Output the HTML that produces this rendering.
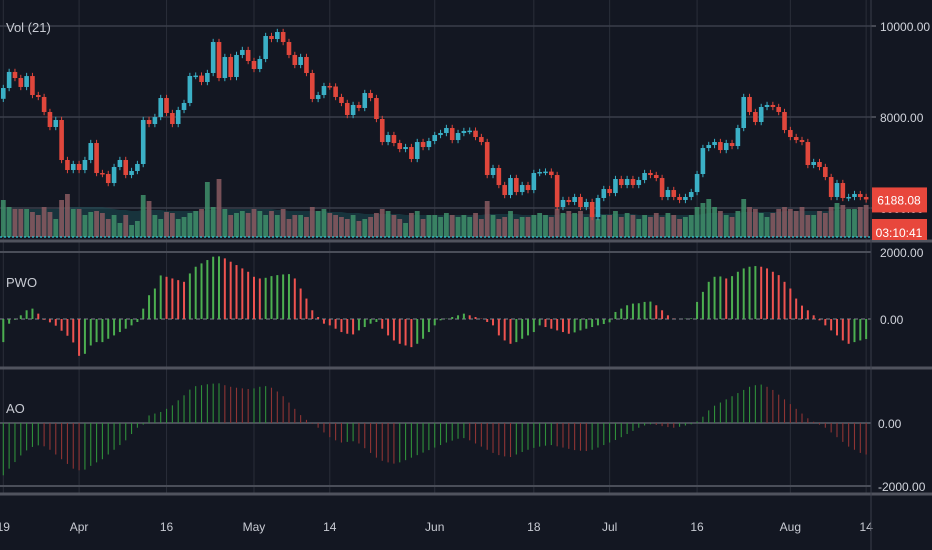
<!DOCTYPE html>
<html><head><meta charset="utf-8"><style>
html,body{margin:0;padding:0;background:#131722;}
svg{display:block;font-family:"Liberation Sans",sans-serif;}
</style></head><body>
<svg id="c" width="932" height="550" viewBox="0 0 932 550">
<rect x="0" y="0" width="932" height="550" fill="#131722"/>
<g id="grid"></g>
<g id="vol"></g>
<g id="candles"></g>
<g id="pwo"></g>
<g id="ao"></g>
<g id="axes"></g>
<text x="6" y="32" fill="#c8cbd3" font-size="13">Vol (21)</text>
<text x="6" y="287" fill="#c8cbd3" font-size="13">PWO</text>
<text x="6" y="413" fill="#c8cbd3" font-size="13">AO</text>
</svg>
<script>
const closes=[8637,8990,8857,8660,8900,8483,8440,8110,7780,7934,7055,6835,6967,6835,7055,7428,6769,6747,6549,6901,7055,6725,6813,6967,7934,7846,8000,8417,8088,7846,8154,8308,8901,8910,8769,8967,9648,8857,9319,8879,9363,9473,9231,9055,9275,9780,9714,9868,9648,9363,9143,9319,8967,8396,8483,8681,8670,8440,8308,8044,8264,8198,8527,8417,7956,7450,7604,7428,7296,7340,7077,7450,7340,7472,7604,7648,7758,7494,7648,7692,7700,7560,7450,6725,6879,6505,6285,6659,6351,6505,6395,6769,6791,6800,6725,6022,6176,6132,6242,6022,6132,5802,6220,6417,6329,6637,6505,6637,6505,6615,6769,6725,6659,6242,6395,6242,6176,6242,6351,6747,7318,7384,7450,7274,7428,7362,7758,8440,8110,7890,8220,8264,8220,8110,7714,7560,7494,7450,6945,7011,6901,6681,6242,6549,6220,6242,6307,6242,6188.08];
const volumes=[37,30,28,28,28,25,22,30,25,18,37,43,28,28,22,25,26,24,18,22,14,22,12,16,42,36,22,18,25,24,18,20,24,26,28,55,30,58,28,22,24,26,24,28,26,22,26,22,28,18,22,22,20,30,26,28,24,22,20,18,22,16,18,20,24,28,26,22,18,14,24,26,18,22,22,20,24,22,20,22,20,24,18,36,22,18,20,26,18,20,20,22,24,22,20,28,24,26,24,26,20,22,18,22,22,26,20,24,22,18,22,20,24,20,24,22,18,20,22,30,34,38,30,26,22,20,26,38,30,28,24,20,24,28,30,28,26,30,22,22,26,24,30,34,32,28,28,30,32];
const volMA=[28,28,28,28,28,28,28,28,28,28,29,30,30,30,30,30,30,30,29,28,27,27,26,26,27,27,27,27,26,26,26,26,26,26,26,27,27,28,28,28,28,28,28,28,28,28,28,27,27,26,26,26,26,26,26,26,25,25,25,24,24,24,23,23,23,23,23,23,23,22,22,22,22,22,22,22,22,22,22,22,22,22,22,23,23,23,23,23,23,22,22,22,22,22,22,22,23,23,23,23,23,23,23,23,23,23,23,23,23,22,22,22,22,22,22,22,22,22,22,22,23,24,24,24,24,24,24,25,25,25,25,25,25,25,26,26,26,26,26,26,26,26,26,27,27,27,27,27,28];
const pwo=[-690,-140,-20,110,260,310,160,-20,-100,-200,-350,-500,-700,-1100,-1040,-790,-690,-690,-590,-490,-390,-290,-190,-90,310,710,910,1300,1260,1210,1160,1110,1360,1560,1660,1760,1860,1870,1810,1710,1610,1510,1410,1260,1210,1230,1280,1310,1330,1340,1210,910,610,260,60,-140,-190,-290,-390,-440,-460,-340,-240,-140,-90,-290,-490,-640,-740,-790,-840,-740,-590,-390,-190,-40,10,60,110,160,110,60,10,-90,-190,-490,-640,-740,-690,-590,-490,-390,-190,-240,-290,-340,-390,-440,-400,-340,-290,-240,-190,-150,-100,210,310,410,460,470,510,520,410,260,110,10,0,10,20,510,810,1110,1260,1270,1210,1280,1410,1510,1560,1580,1560,1510,1410,1310,1110,910,610,400,260,110,-40,-190,-340,-490,-640,-740,-690,-640,-600];
const ao=[-1660,-1450,-1240,-1030,-870,-760,-710,-740,-850,-1000,-1150,-1300,-1450,-1500,-1480,-1360,-1250,-1150,-1000,-850,-700,-550,-350,-150,-50,240,300,350,450,560,720,880,1060,1170,1200,1230,1250,1260,1200,1150,1120,1100,1080,1100,1150,1170,1120,1000,850,650,450,250,100,-20,-150,-300,-450,-550,-620,-600,-580,-650,-800,-950,-1100,-1200,-1250,-1290,-1250,-1180,-1100,-1020,-940,-860,-780,-700,-620,-560,-500,-480,-550,-650,-750,-850,-950,-1020,-1060,-1080,-1000,-920,-850,-790,-750,-720,-700,-740,-780,-820,-860,-880,-890,-850,-780,-700,-620,-540,-450,-350,-250,-150,-80,-40,-60,-100,-130,-150,-120,-80,-40,50,200,400,550,650,750,850,950,1050,1150,1200,1220,1150,1050,900,750,600,450,300,150,40,-50,-150,-300,-450,-600,-750,-850,-950,-1000];
const priceTicks=[10000,8000,6000];
const pwoTicks=[2000,0];
const aoTicks=[0,-2000];
const dateLabels=["19","Apr","16","May","14","Jun","18","Jul","16","Aug","14"];
const dateIdx=[0,13,28,43,56,74,91,104,119,135,148];

const NS="http://www.w3.org/2000/svg";
function mk(tag,attrs,parent){const e=document.createElementNS(NS,tag);for(const k in attrs)e.setAttribute(k,attrs[k]);parent.appendChild(e);return e;}
const xOf=i=>3.3+i*5.83;
const yPrice=p=>26+(10000-p)/2000*91;
const yVol=v=>237-v;
const yPwo=v=>319-v/2000*67;
const yAo=v=>423-v/2000*63;
const PLOT_R=871;
const grid=document.getElementById('grid'),axes=document.getElementById('axes');

dateIdx.forEach((d,i)=>{const x=xOf(d);
 const l=mk('line',{x1:x,y1:0,x2:x,y2:494,stroke:'#2a2e39','stroke-width':1},grid);
 
 
 const t=mk('text',{x:x,y:531,fill:'#c8cbd3','font-size':12,'text-anchor':'middle'},axes);
 t.textContent=dateLabels[i];
 
 
});
priceTicks.forEach(p=>{const y=yPrice(p);
 const l=mk('line',{x1:0,y1:y,x2:PLOT_R,y2:y,stroke:'#3a3e4a','stroke-width':1.5},grid);
 
 
 mk('line',{x1:PLOT_R,y1:y,x2:PLOT_R+5,y2:y,stroke:'#787b86'},axes);
 const t=mk('text',{x:880,y:y+5,fill:'#d1d4dc','font-size':12},axes);
 t.textContent=p.toFixed(2);
 
 
});
pwoTicks.forEach(v=>{const y=yPwo(v);
 const l=mk('line',{x1:0,y1:y,x2:PLOT_R,y2:y,stroke:v===0?'#5d606b':'#4a4e59','stroke-width':v===0?1.5:2,'stroke-dasharray':v===0?'4,3':''},grid);
 
 
 const t=mk('text',{x:880,y:y+5,fill:'#d1d4dc','font-size':12},axes);
 t.textContent=v.toFixed(2);
 
 
});
aoTicks.forEach(v=>{const y=yAo(v);
 const l=mk('line',{x1:0,y1:y,x2:PLOT_R,y2:y,stroke:'#4a4e59','stroke-width':2},grid);
 
 
 const t=mk('text',{x:878,y:y+5,fill:'#d1d4dc','font-size':12},axes);
 t.textContent=v.toFixed(2);
 
 
});
[[241,3],[368,3],[494,3]].forEach(s=>{const l=mk('line',{x1:0,y1:s[0],x2:932,y2:s[0],stroke:'#50535e','stroke-width':s[1]},axes);
 
 });
const ax=mk('line',{x1:PLOT_R,y1:0,x2:PLOT_R,y2:550,stroke:'#3a3e4a','stroke-width':1},axes);



const vol=document.getElementById('vol');
let pts=volMA.map((v,i)=>xOf(i)+','+yVol(v)).join(' ');
const area=mk('polygon',{points:xOf(0)+',237 '+pts+' '+xOf(volMA.length-1)+',237',fill:'#1c4a52','fill-opacity':0.55},vol);


volumes.forEach((v,i)=>{const up=i===0||closes[i]>=closes[i-1];
 const r=mk('rect',{x:xOf(i)-2.4,y:yVol(v),width:4.8,height:v,fill:up?'#3f8f6a':'#8a5a60','fill-opacity':0.85},vol);
 
 });
const dl=mk('line',{x1:0,y1:237,x2:PLOT_R,y2:237,stroke:'#30c8d8','stroke-width':1.2,'stroke-dasharray':'2,2'},vol);



const cg=document.getElementById('candles');
closes.forEach((c,i)=>{const o=i===0?8400:closes[i-1];const up=c>=o;const col=up?'#3bb0c6':'#e0473c';
 const x=xOf(i);const hi=Math.max(o,c)+70,lo=Math.min(o,c)-70;
 const w=mk('line',{x1:x,y1:yPrice(hi),x2:x,y2:yPrice(lo),stroke:col,'stroke-width':1},cg);
 
 
 const y1=yPrice(Math.max(o,c)),y2=yPrice(Math.min(o,c));
 const b=mk('rect',{x:x-2.3,y:y1,width:4.6,height:Math.max(1.5,y2-y1),fill:col},cg);
 
 });

const pg=document.getElementById('pwo');
pwo.forEach((v,i)=>{const up=i===0||v>=pwo[i-1];const x=xOf(i);
 const r=mk('line',{x1:x,y1:yPwo(0),x2:x,y2:yPwo(v),stroke:up?'#4caf50':'#ef5350','stroke-width':2},pg);
 
 });
const ag=document.getElementById('ao');
ao.forEach((v,i)=>{const up=i===0||v>=ao[i-1];const x=xOf(i);
 const r=mk('line',{x1:x,y1:yAo(0),x2:x,y2:yAo(v),stroke:up?'#2f8f3a':'#8e3434','stroke-width':1.1},ag);
 
 });

const last=closes[closes.length-1];
const pl=mk('rect',{x:872,y:yPrice(last)-12,width:55,height:25,fill:'#e8473c'},axes);


const pt=mk('text',{x:899,y:yPrice(last)+5,fill:'#fff','font-size':12,'text-anchor':'middle'},axes);
pt.textContent=last.toFixed(2);


const cl=mk('rect',{x:872,y:219,width:55,height:21,fill:'#e8473c'},axes);


const ct=mk('text',{x:899,y:237,fill:'#fff','font-size':12,'text-anchor':'middle'},axes);
ct.textContent='03:10:41';


</script>
</body></html>
